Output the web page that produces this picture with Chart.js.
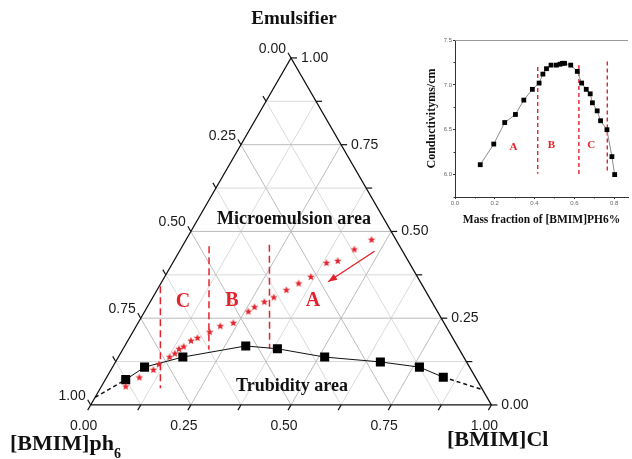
<!DOCTYPE html>
<html><head><meta charset="utf-8">
<script src="https://cdn.jsdelivr.net/npm/chart.js@4.4.1/dist/chart.umd.min.js"></script>
<style>
html,body{margin:0;padding:0;background:#fff;}
#wrap{position:relative;width:632px;height:459px;overflow:hidden;background:#fff;}
#main{position:absolute;left:0;top:0;}
#inset{position:absolute;left:425px;top:28px;}
</style></head><body>
<div id="wrap"><canvas id="main" width="632" height="459"></canvas><canvas id="inset" width="207" height="199"></canvas></div>
<script>
// ---------- Ternary diagram data (mass fractions) ----------
const ternTicks = [0, 0.125, 0.25, 0.375, 0.5, 0.625, 0.75, 0.875, 1];
const ternMajor = [0, 0.25, 0.5, 0.75, 1];
const ternLabels = ['0.00', '0.25', '0.50', '0.75', '1.00'];

// Binodal (turbidity boundary) squares
const binodalPh6 = [0.876, 0.811, 0.701, 0.528, 0.453, 0.347, 0.215, 0.125, 0.080];
const binodalCl  = [0.051, 0.080, 0.161, 0.302, 0.385, 0.515, 0.661, 0.766, 0.840];
const binodalEm  = [0.073, 0.109, 0.138, 0.170, 0.162, 0.138, 0.124, 0.109, 0.080];
// Dashed extrapolations to the edges
const extLeftCl = [0.000, 0.051], extLeftEm = [0.022, 0.073];
const extRightCl = [0.840, 0.956], extRightEm = [0.080, 0.044];

// Dilution path (red stars)
const starPh6 = [0.886,0.839,0.793,0.771,0.734,0.716,0.699,0.684,0.657,0.637,0.598,0.563,0.526,0.472,0.450,0.418,0.388,0.346,0.306,0.266,0.207,0.176,0.118,0.061];
const starCl  = [0.061,0.082,0.106,0.112,0.128,0.136,0.140,0.148,0.158,0.170,0.192,0.210,0.238,0.259,0.268,0.285,0.302,0.323,0.344,0.365,0.384,0.409,0.434,0.463];
const starEm  = [0.053,0.079,0.101,0.117,0.138,0.148,0.161,0.168,0.185,0.193,0.210,0.227,0.236,0.269,0.282,0.297,0.310,0.331,0.350,0.369,0.409,0.415,0.448,0.476];

// Region dividers (C, B, A) : top and bottom ends
const dividerTopCl = [0.003, 0.067, 0.215], dividerTopEm = [0.342, 0.457, 0.462];
const dividerBotCl = [0.150, 0.215, 0.365], dividerBotEm = [0.048, 0.160, 0.163];

// Arrow (tail -> head)
const arrowCl = [0.487, 0.415], arrowEm = [0.443, 0.355];

// ---------- Inset data ----------
const massFraction = [0.127,0.195,0.250,0.304,0.346,0.389,0.423,0.442,0.460,0.483,0.510,0.528,0.540,0.551,0.582,0.615,0.637,0.660,0.680,0.691,0.715,0.732,0.764,0.789,0.803];
const conductivity = [6.11,6.34,6.58,6.67,6.83,6.95,7.02,7.12,7.18,7.22,7.22,7.23,7.24,7.24,7.22,7.15,7.02,6.95,6.90,6.80,6.71,6.60,6.50,6.20,6.00];
const insetXTicks = [0, 0.2, 0.4, 0.6, 0.8];
const insetYTicks = [6.0, 6.5, 7.0, 7.5];
const insetDividerX = [0.416, 0.623, 0.766];
const insetDividerTop = [7.20, 7.22, 7.26];
const insetDividerBot = [6.01, 6.00, 6.03];
const regionNames = ['A', 'B', 'C'];

const RED = '#e3232b';
const SERIF = '"Liberation Serif", "Times New Roman", serif';
const SANS = '"Liberation Sans", Arial, sans-serif';

function toXY(cl, em) { return { x: cl + em / 2, y: em }; }

// filled five-point star image
function makeStar(r, color) {
  const c = document.createElement('canvas');
  const s = Math.ceil(r * 2 + 2);
  c.width = s; c.height = s;
  const g = c.getContext('2d');
  g.fillStyle = color;
  g.beginPath();
  for (let i = 0; i < 10; i++) {
    const rad = i % 2 === 0 ? r : r * 0.42;
    const a = -Math.PI / 2 + i * Math.PI / 5;
    const px = s / 2 + rad * Math.cos(a), py = s / 2 + rad * Math.sin(a);
    if (i === 0) g.moveTo(px, py); else g.lineTo(px, py);
  }
  g.closePath(); g.fill();
  return c;
}
const starImg = makeStar(4, RED);

const datasets = [];
// gridlines
ternTicks.filter(t => t > 0 && t < 1).forEach(t => {
  const major = Math.abs((t / 0.25) - Math.round(t / 0.25)) < 1e-6;
  const col = major ? '#bcbcbc' : '#dadada';
  const lines = [
    [toXY(0, t), toXY(1 - t, t)],
    [toXY(t, 0), toXY(t, 1 - t)],
    [toXY(0, 1 - t), toXY(1 - t, 0)]
  ];
  lines.forEach(l => datasets.push({ data: l, showLine: true, borderColor: col, borderWidth: 1, pointRadius: 0, order: major ? 20 : 21 }));
});
// triangle frame
datasets.push({ data: [toXY(0, 0), toXY(1, 0), toXY(0, 1), toXY(0, 0)], showLine: true, borderColor: '#111', borderWidth: 1.3, pointRadius: 0, order: 15 });
// binodal curve
datasets.push({ data: binodalCl.map((v, i) => toXY(v, binodalEm[i])), showLine: true, borderColor: '#111', borderWidth: 1, pointStyle: 'rect', pointRadius: 6.4, pointBackgroundColor: '#000', pointBorderColor: '#000', pointBorderWidth: 0, order: 2 });
datasets.push({ data: extLeftCl.map((v, i) => toXY(v, extLeftEm[i])), showLine: true, borderColor: '#111', borderWidth: 1.5, borderDash: [4, 3], pointRadius: 0, order: 4 });
datasets.push({ data: extRightCl.map((v, i) => toXY(v, extRightEm[i])), showLine: true, borderColor: '#111', borderWidth: 1.5, borderDash: [4, 3], pointRadius: 0, order: 4 });
// stars
datasets.push({ data: starCl.map((v, i) => toXY(v, starEm[i])), showLine: false, pointStyle: starImg, pointRadius: 4, order: 1 });
// dividers
dividerTopCl.forEach((v, i) => datasets.push({ data: [toXY(v, dividerTopEm[i]), toXY(dividerBotCl[i], dividerBotEm[i])], showLine: true, borderColor: RED, borderWidth: 1.5, borderDash: [7, 4], pointRadius: 0, order: 3 }));
// arrow shaft
datasets.push({ label: 'arrow', data: arrowCl.map((v, i) => toXY(v, arrowEm[i])), showLine: true, borderColor: RED, borderWidth: 1.4, pointRadius: 0, order: 3 });
const arrowIndex = datasets.length - 1;

const ternaryFurniture = {
  id: 'tern',
  afterDatasetsDraw(chart) {
    const { ctx, scales: { x, y } } = chart;
    const P = (cl, em) => { const q = toXY(cl, em); return [x.getPixelForValue(q.x), y.getPixelForValue(q.y)]; };
    ctx.save();
    // arrow head
    const pts = chart.getDatasetMeta(arrowIndex).data;
    const t0 = pts[0], h = pts[1];
    const ang = Math.atan2(h.y - t0.y, h.x - t0.x);
    ctx.fillStyle = RED;
    ctx.beginPath();
    ctx.moveTo(h.x, h.y);
    ctx.lineTo(h.x - 9 * Math.cos(ang) + 3.5 * Math.sin(ang), h.y - 9 * Math.sin(ang) - 3.5 * Math.cos(ang));
    ctx.lineTo(h.x - 9 * Math.cos(ang) - 3.5 * Math.sin(ang), h.y - 9 * Math.sin(ang) + 3.5 * Math.cos(ang));
    ctx.closePath(); ctx.fill();
    // ticks
    ctx.strokeStyle = '#111'; ctx.lineWidth = 1.2;
    const L = 6;
    const dBot = [-0.497, 0.868], dRight = [1, 0], dLeft = [-0.497, -0.868];
    ternTicks.forEach(t => {
      [[P(t, 0), dBot], [P(1 - t, t), dRight], [P(0, 1 - t), dLeft]].forEach(([p, d]) => {
        ctx.beginPath(); ctx.moveTo(p[0], p[1]); ctx.lineTo(p[0] + d[0] * L, p[1] + d[1] * L); ctx.stroke();
      });
    });
    // tick labels
    ctx.fillStyle = '#1a1a1a'; ctx.font = '14px ' + SANS; ctx.textBaseline = 'middle';
    ternMajor.forEach((t, i) => {
      const lab = ternLabels[i];
      let p = P(t, 0); ctx.textAlign = 'center'; ctx.fillText(lab, p[0] - 7, p[1] + 21);
      p = P(1 - t, t); ctx.textAlign = 'left'; ctx.fillText(lab, p[0] + 10, p[1]);
      p = P(0, 1 - t); ctx.textAlign = 'right'; ctx.fillText(lab, p[0] - 5, p[1] - 9);
    });
    // titles
    ctx.fillStyle = '#111';
    ctx.font = 'bold 19px ' + SERIF; ctx.textAlign = 'center';
    ctx.fillText('Emulsifier', 294, 19);
    ctx.font = 'bold 18px ' + SERIF;
    ctx.fillText('Microemulsion area', 294, 219);
    ctx.fillText('Trubidity area', 292, 386);
    ctx.font = 'bold 22px ' + SERIF; ctx.textAlign = 'left';
    ctx.fillText('[BMIM]ph', 10, 444);
    const w = ctx.measureText('[BMIM]ph').width;
    ctx.font = 'bold 14px ' + SERIF;
    ctx.fillText('6', 10 + w, 454);
    ctx.font = 'bold 22px ' + SERIF;
    ctx.fillText('[BMIM]Cl', 447, 440);
    // region letters
    ctx.fillStyle = RED; ctx.font = 'bold 20px ' + SERIF; ctx.textAlign = 'center';
    ctx.fillText('C', 183, 302);
    ctx.fillText('B', 232, 301);
    ctx.fillText('A', 313, 301);
    ctx.restore();
  }
};

new Chart(document.getElementById('main'), {
  type: 'scatter',
  data: { datasets },
  options: {
    responsive: false, animation: false, devicePixelRatio: 1,
    layout: { padding: 0 },
    plugins: { legend: { display: false }, tooltip: { enabled: false } },
    scales: {
      x: { type: 'linear', display: false, min: -0.2103, max: 1.3350 },
      y: { type: 'linear', display: false, min: -0.1373, max: 1.1485 }
    }
  },
  plugins: [ternaryFurniture]
});

// ---------- Inset chart ----------
const insetDatasets = [
  { data: massFraction.map((v, i) => ({ x: v, y: conductivity[i] })), showLine: true, borderColor: '#8c8c8c', borderWidth: 1, pointStyle: 'rect', pointRadius: 3.4, pointBackgroundColor: '#000', pointBorderColor: '#000', pointBorderWidth: 0, order: 1 }
];
insetDividerX.forEach((v, i) => insetDatasets.push({ data: [{ x: v, y: insetDividerTop[i] }, { x: v, y: insetDividerBot[i] }], showLine: true, borderColor: RED, borderWidth: 1.4, borderDash: [4, 3], pointRadius: 0, order: 2 }));

const insetLabelX = [0.294, 0.485, 0.685], insetLabelY = [6.31, 6.33, 6.33];

const insetPlugin = {
  id: 'insetExtras',
  afterDatasetsDraw(chart) {
    const { ctx, chartArea: a, scales: { x, y } } = chart;
    ctx.save();
    ctx.strokeStyle = '#9a9a9a'; ctx.lineWidth = 1;
    ctx.beginPath(); ctx.moveTo(a.left, a.top + 0.5); ctx.lineTo(a.right, a.top + 0.5); ctx.stroke();
    ctx.strokeStyle = '#333';
    [0.1, 0.3, 0.5, 0.7].forEach(v => { const px = Math.round(x.getPixelForValue(v)) + 0.5; ctx.beginPath(); ctx.moveTo(px, a.bottom); ctx.lineTo(px, a.bottom + 1.5); ctx.stroke(); });
    [5.75, 6.25, 6.75, 7.25].forEach(v => { const py = Math.round(y.getPixelForValue(v)) + 0.5; ctx.beginPath(); ctx.moveTo(a.left, py); ctx.lineTo(a.left - 1.5, py); ctx.stroke(); });
    ctx.fillStyle = RED; ctx.font = 'bold 11px ' + SERIF; ctx.textAlign = 'center'; ctx.textBaseline = 'middle';
    regionNames.forEach((n, i) => ctx.fillText(n, x.getPixelForValue(insetLabelX[i]), y.getPixelForValue(insetLabelY[i])));
    ctx.restore();
  }
};

new Chart(document.getElementById('inset'), {
  type: 'scatter',
  data: { datasets: insetDatasets },
  options: {
    responsive: false, animation: false, devicePixelRatio: 1,
    layout: { padding: { top: 12, left: 0, right: 0, bottom: 0 } },
    plugins: { legend: { display: false }, tooltip: { enabled: false } },
    scales: {
      x: {
        type: 'linear', min: 0, max: 0.87,
        afterBuildTicks(s) { s.ticks = insetXTicks.map(v => ({ value: v })); },
        afterFit(s) { s.height = 30; },
        grid: { display: true, drawOnChartArea: false, drawTicks: true, tickLength: 2, color: '#333' },
        border: { display: true, color: '#333', width: 1 },
        ticks: { autoSkip: false, maxRotation: 0, padding: 1, color: '#666', font: { size: 6, family: SANS }, callback: v => Number(v).toFixed(1) },
        title: { display: true, text: 'Mass fraction of [BMIM]PH6%', color: '#111', padding: 0, font: { size: 11.5, weight: 'bold', family: SERIF } }
      },
      y: {
        type: 'linear', min: 5.75, max: 7.5,
        afterBuildTicks(s) { s.ticks = insetYTicks.map(v => ({ value: v })); },
        afterFit(s) { s.width = 30; },
        grid: { display: true, drawOnChartArea: false, drawTicks: true, tickLength: 2, color: '#333' },
        border: { display: true, color: '#333', width: 1 },
        ticks: { autoSkip: false, padding: 1, color: '#666', font: { size: 6, family: SANS }, callback: v => Number(v).toFixed(1) },
        title: { display: true, text: 'Conductivityms/cm', color: '#111', padding: 0, font: { size: 12, weight: 'bold', family: SERIF } }
      }
    }
  },
  plugins: [insetPlugin]
});
</script></body></html>
